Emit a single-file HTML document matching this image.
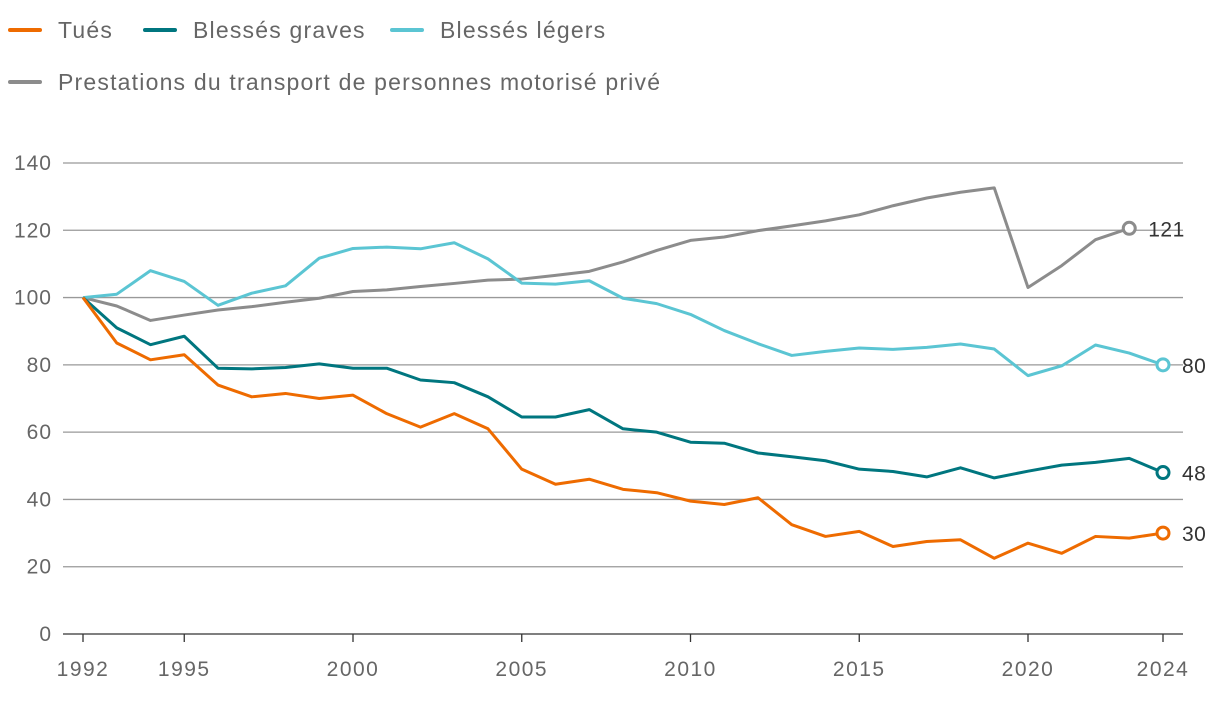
<!DOCTYPE html>
<html><head><meta charset="utf-8"><style>
body{margin:0;background:#fff;font-family:"Liberation Sans",sans-serif;}
svg text{font-family:"Liberation Sans",sans-serif;}
</style></head><body>
<svg id="chart" width="1220" height="702"></svg>
<script>
const years=[];for(let y=1992;y<=2024;y++)years.push(y);
const tues=[100,86.5,81.5,83,74,70.5,71.5,70,71,65.5,61.5,65.5,61,49,44.5,46,43,42,39.5,38.5,40.5,32.5,29,30.5,26,27.5,28,22.5,27,24,29,28.5,30];
const graves=[100,91,86,88.5,79,78.8,79.2,80.3,79,79,75.5,74.7,70.5,64.5,64.5,66.7,61,60,57,56.7,53.8,52.7,51.5,49,48.3,46.7,49.4,46.4,48.4,50.2,51,52.2,48];
const legers=[100,101,108,104.8,97.7,101.3,103.5,111.7,114.6,115,114.5,116.3,111.5,104.3,104,105,99.8,98.2,95,90.2,86.3,82.8,84,85,84.6,85.2,86.2,84.7,76.8,79.7,85.9,83.5,80];
const prest=[100,97.5,93.2,94.8,96.3,97.3,98.6,99.8,101.8,102.3,103.3,104.2,105.2,105.5,106.6,107.8,110.6,114,117,118,119.9,121.3,122.8,124.6,127.3,129.6,131.3,132.6,103,109.5,117.2,120.6];
const yTicks=[0,20,40,60,80,100,120,140];
const xTicks=[1992,1995,2000,2005,2010,2015,2020,2024];
const endLabels=["30","48","80","121"];
const NS="http://www.w3.org/2000/svg";
const svg=document.getElementById('chart');
const X=y=>83+(y-1992)*33.75;
const Y=v=>634-v*(471/140);
function el(t,a,p){const e=document.createElementNS(NS,t);for(const k in a)e.setAttribute(k,a[k]);(p||svg).appendChild(e);return e;}
yTicks.forEach(v=>{
 const g=el('line',{x1:63,x2:1183,y1:Y(v),y2:Y(v),stroke:v==0?'#333':'#999','stroke-width':1.3});
 
 
 const t=el('text',{x:52,y:Y(v)+7,'text-anchor':'end','font-size':21,'letter-spacing':1,fill:'#666'});t.textContent=v;
 
 
});
xTicks.forEach(yr=>{
 el('line',{x1:X(yr),x2:X(yr),y1:634,y2:642,stroke:'#333','stroke-width':1.3});
 const t=el('text',{x:X(yr),y:676,'text-anchor':'middle','font-size':21,'letter-spacing':1.5,fill:'#666'});t.textContent=yr;
 
 
});
function series(vals,color,name,lbl){
 const pts=vals.map((v,i)=>X(years[i])+','+Y(v)).join(' ');
 const p=el('polyline',{points:pts,fill:'none',stroke:color,'stroke-width':3,'stroke-linejoin':'round'});
 
 
 const i=vals.length-1;
 const c=el('circle',{cx:X(years[i]),cy:Y(vals[i]),r:6,fill:'#fff',stroke:color,'stroke-width':3});
 
 
 const t=el('text',{x:X(years[i])+19,y:Y(vals[i])+8,'font-size':21,'letter-spacing':0.5,fill:'#333'});t.textContent=lbl;
 
 
}
series(prest,'#8c8c8c','prestations',endLabels[3]);
series(legers,'#5bc5d3','blesses-legers',endLabels[2]);
series(graves,'#00767f','blesses-graves',endLabels[1]);
series(tues,'#ee6b00','tues',endLabels[0]);
const leg=[['Tués','#ee6b00',10,30],['Blessés graves','#00767f',145,30],['Blessés légers','#5bc5d3',392,30],['Prestations du transport de personnes motorisé privé','#8c8c8c',10,82]];
leg.forEach(([n,c,x,y])=>{
 const g=el('g',{});
 
 
 el('line',{x1:x,x2:x+30,y1:y,y2:y,stroke:c,'stroke-width':4,'stroke-linecap':'round'},g);
 const t=el('text',{x:x+48,y:y+8,'font-size':23,'letter-spacing':1.2,fill:'#666'},g);t.textContent=n;
});
</script>
</body></html>
